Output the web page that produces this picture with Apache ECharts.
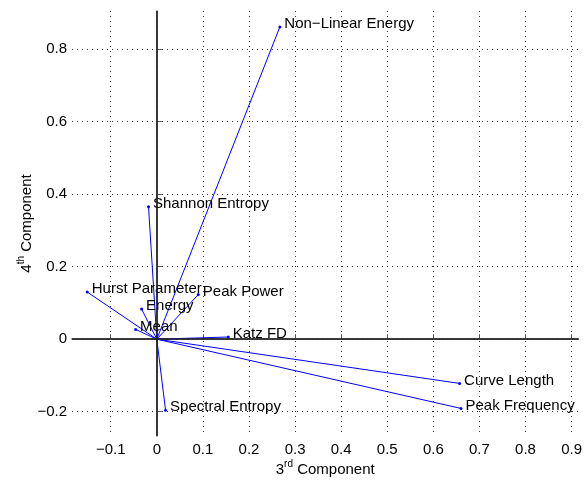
<!DOCTYPE html>
<html lang="en">
<head>
    <meta charset="UTF-8">
    <title>Biplot 3rd vs 4th component</title>
    <script src="https://cdn.jsdelivr.net/npm/echarts@6/dist/echarts.min.js"></script>
    <style>
        html, body { margin: 0; padding: 0; background: #fff; }
        #main { width: 587px; height: 483px; }
    </style>
</head>
<body>
    <div id="main"></div>
    <script>
        // feature loadings (3rd component, 4th component)
        var features = ['Non\u2212Linear Energy', 'Shannon Entropy', 'Hurst Parameter', 'Peak Power', 'Energy',
            'Mean', 'Katz FD', 'Spectral Entropy', 'Curve Length', 'Peak Frequency'];
        var comp3 = [0.267, -0.018, -0.151, 0.090, -0.033, -0.046, 0.155, 0.019, 0.657, 0.660];
        var comp4 = [0.861, 0.365, 0.130, 0.123, 0.083, 0.027, 0.006, -0.196, -0.122, -0.191];

        var xRange = [-0.184, 0.915];
        var yRange = [-0.267, 0.905];
        var xStep = 0.1;
        var yStep = 0.2;

        var FONT = '"Liberation Sans", Arial, Helvetica, sans-serif';

        function tickFmt(v) {
            var s = String(+v.toFixed(2));
            return s.replace('-', '\u2212');
        }

        var myChart = echarts.init(document.getElementById('main'));

        var series = features.map(function (name, i) {
            return {
                name: name,
                type: 'line',
                animation: false,
                symbol: 'circle',
                symbolSize: 3,
                color: '#0000ff',
                lineStyle: { color: '#0000ff', width: 1 },
                itemStyle: { color: '#0000ff' },
                emphasis: { disabled: true },
                data: [
                    { value: [0, 0], symbol: 'none' },
                    {
                        value: [comp3[i], comp4[i]],
                        label: {
                            show: true,
                            position: 'right',
                            distance: 3,
                            offset: [0, -3],
                            formatter: name,
                            color: '#000',
                            fontSize: 15,
                            fontFamily: FONT,
                            textBorderWidth: 0
                        }
                    }
                ]
            };
        });

        // zero lines
        series[0].markLine = {
            silent: true,
            symbol: 'none',
            animation: false,
            label: { show: false },
            lineStyle: { color: '#222', width: 1.5, type: 'solid' },
            data: [{ xAxis: 0 }, { yAxis: 0 }]
        };

        var axisCommon = {
            type: 'value',
            axisLine: { show: true, lineStyle: { color: '#555', width: 1.5 } },
            axisTick: { show: true, inside: true, length: 5, lineStyle: { color: '#555' } },
            axisLabel: {
                color: '#000', fontSize: 15, fontFamily: FONT,
                showMinLabel: false, showMaxLabel: false,
                formatter: tickFmt
            },
            splitLine: {
                show: true,
                showMinLine: false,
                showMaxLine: false,
                lineStyle: { color: '#333', type: [1, 4], width: 1 }
            },
            nameLocation: 'middle',
            nameMoveOverlap: false,
            nameTextStyle: {
                rich: {
                    n: { fontSize: 15, fontFamily: FONT, color: '#000', verticalAlign: 'bottom' },
                    s: { fontSize: 10, fontFamily: FONT, color: '#000', verticalAlign: 'top', padding: [0, 0, 8, 0] }
                }
            }
        };

        var option = {
            backgroundColor: '#fff',
            animation: false,
            grid: { left: 72, right: 8.5, top: 11, bottom: 47 },
            xAxis: echarts.util.merge({
                min: xRange[0],
                max: xRange[1],
                minInterval: xStep,
                maxInterval: xStep,
                splitNumber: 11,
                name: '{n|3}{s|rd}{n| Component}',
                nameGap: 23,
                axisLabel: { margin: 6 }
            }, axisCommon),
            yAxis: echarts.util.merge({
                min: yRange[0],
                max: yRange[1],
                minInterval: yStep,
                maxInterval: yStep,
                splitNumber: 6,
                name: '{n|4}{s|th}{n| Component}',
                nameGap: 38,
                nameRotate: 90,
                axisLabel: { margin: 5 }
            }, axisCommon),
            series: series
        };

        myChart.setOption(option);
        window.addEventListener('resize', function () {
            myChart.resize();
        });
    </script>
</body>
</html>
